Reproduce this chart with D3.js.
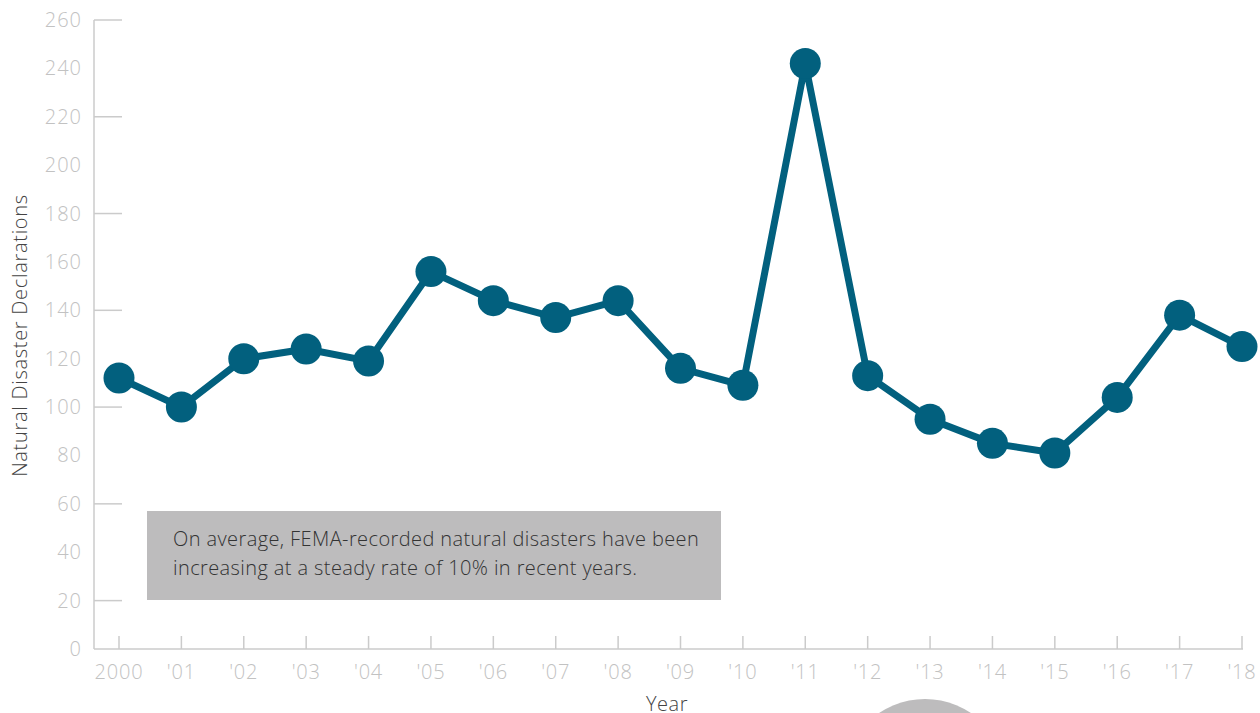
<!DOCTYPE html>
<html>
<head>
<meta charset="utf-8">
<script src="https://cdn.jsdelivr.net/npm/d3@7"></script>
<style>
  html, body { margin: 0; padding: 0; background: #fff; }
  svg { display: block; font-family: "Open Sans", Lato, sans-serif; font-weight: 300; }
</style>
</head>
<body>
<svg id="chart" width="1260" height="713"></svg>
<script>
// FEMA natural disaster declarations per year
const years = [2000, 2001, 2002, 2003, 2004, 2005, 2006, 2007, 2008, 2009,
               2010, 2011, 2012, 2013, 2014, 2015, 2016, 2017, 2018];
const declarations = [112, 100, 120, 124, 119, 156, 144, 137, 144, 116,
                      109, 242, 113, 95, 85, 81, 104, 138, 125];
const yTicks = [0, 20, 40, 60, 80, 100, 120, 140, 160, 180, 200, 220, 240, 260];
const yTickMarks = [20, 60, 100, 140, 180, 220, 260];
const noteLines = [
  "On average, FEMA-recorded natural disasters have been",
  "increasing at a steady rate of 10% in recent years."
];

const svg = d3.select("#chart");
const axisColor = "#cbcbcb";
const lineColor = "#02607e";

const x = d3.scaleLinear().domain([2000, 2018]).range([119, 1242]);
const y = d3.scaleLinear().domain([0, 260]).range([649, 20]);

// y axis: labels on every step, tick lines every other step
const yAxis = svg.append("g").attr("transform", "translate(94,0)");
yAxis.append("line")
  .attr("x1", 0).attr("x2", 0)
  .attr("y1", y(260)).attr("y2", y(0))
  .attr("stroke", axisColor).attr("stroke-width", 1.5);
yAxis.selectAll("line.tick").data(yTickMarks).join("line")
  .attr("class", "tick")
  .attr("x1", 0).attr("x2", 28)
  .attr("y1", d => y(d)).attr("y2", d => y(d))
  .attr("stroke", axisColor).attr("stroke-width", 1.5);
yAxis.selectAll("text").data(yTicks).join("text")
  .attr("x", -12).attr("y", d => y(d))
  .attr("dy", "0.35em")
  .attr("text-anchor", "end")
  .attr("fill", "#c2c2c2")
  .attr("font-size", 20)
  .attr("letter-spacing", 1)
  .text(d => d);

// x axis
const xAxis = svg.append("g");
xAxis.append("line")
  .attr("x1", 94).attr("x2", x(2018) + 1)
  .attr("y1", y(0)).attr("y2", y(0))
  .attr("stroke", axisColor).attr("stroke-width", 1.5);
xAxis.selectAll("line.tick").data(years).join("line")
  .attr("class", "tick")
  .attr("x1", d => x(d)).attr("x2", d => x(d))
  .attr("y1", y(0)).attr("y2", y(0) - 13)
  .attr("stroke", axisColor).attr("stroke-width", 1.5);
xAxis.selectAll("text").data(years).join("text")
  .attr("x", d => x(d)).attr("y", y(0) + 30)
  .attr("text-anchor", "middle")
  .attr("fill", "#c2c2c2")
  .attr("font-size", 20)
  .attr("letter-spacing", 0.8)
  .text(d => d === 2000 ? "2000" : "'" + String(d).slice(2));

// axis titles
svg.append("text")
  .attr("transform", `translate(27,${(y(0) + y(260)) / 2 + 1}) rotate(-90)`)
  .attr("text-anchor", "middle")
  .attr("fill", "#444")
  .attr("font-size", 20)
  .attr("letter-spacing", 0.7)
  .text("Natural Disaster Declarations");
svg.append("text")
  .attr("x", 667).attr("y", 711)
  .attr("text-anchor", "middle")
  .attr("fill", "#444")
  .attr("font-size", 20)
  .attr("letter-spacing", 0.5)
  .text("Year");

// annotation box
const note = svg.append("g");
note.append("rect")
  .attr("x", 147).attr("y", 511)
  .attr("width", 574).attr("height", 89)
  .attr("fill", "#bdbcbd");
note.selectAll("text").data(noteLines).join("text")
  .attr("x", 173).attr("y", (d, i) => 546 + i * 29)
  .attr("fill", "#333")
  .attr("font-size", 20)
  .attr("letter-spacing", 0.4)
  .text(d => d);

// decorative circle peeking in at the bottom
svg.append("circle")
  .attr("cx", 925).attr("cy", 781).attr("r", 82)
  .attr("fill", "#bdbcbd");

// series line and markers
const line = d3.line()
  .x((d, i) => x(years[i]))
  .y(d => y(d));
svg.append("path")
  .datum(declarations)
  .attr("d", line)
  .attr("fill", "none")
  .attr("stroke", lineColor)
  .attr("stroke-width", 7)
  .attr("stroke-linejoin", "round");
svg.selectAll("circle.pt").data(declarations).join("circle")
  .attr("class", "pt")
  .attr("cx", (d, i) => x(years[i]))
  .attr("cy", d => y(d))
  .attr("r", 15.5)
  .attr("fill", lineColor);
</script>
</body>
</html>
